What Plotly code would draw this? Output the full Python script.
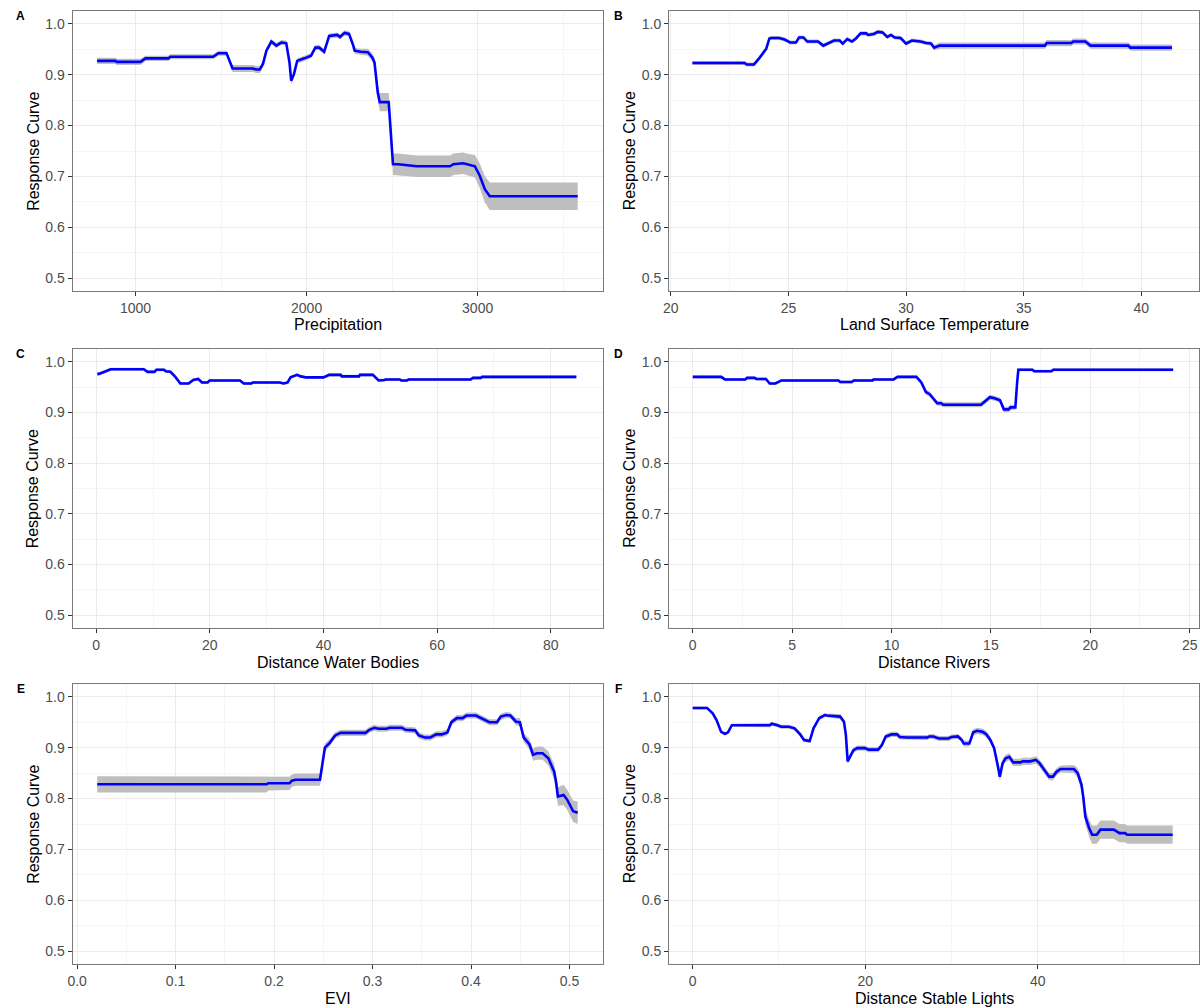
import plotly.graph_objects as go

# ---------------- data ----------------
precip_x = [775, 883, 890, 1029, 1058, 1193, 1203, 1454, 1484, 1532, 1567, 1687, 1705, 1726, 1745, 1765,
            1794, 1823, 1852, 1881, 1900, 1910, 1926, 1945, 1987, 2026, 2051, 2074, 2103, 2132, 2180,
            2195, 2222, 2248, 2273, 2281, 2316, 2358, 2384, 2397, 2416, 2428, 2480, 2494, 2505, 2535,
            2645, 2839, 2858, 2916, 2935, 2984, 3013, 3042, 3071, 3585]
precip_y = [0.927, 0.927, 0.925, 0.925, 0.932, 0.932, 0.935, 0.935, 0.942, 0.942, 0.912, 0.912, 0.910,
            0.910, 0.921, 0.947, 0.965, 0.957, 0.963, 0.962, 0.924, 0.888, 0.901, 0.927, 0.932, 0.937,
            0.953, 0.953, 0.945, 0.976, 0.978, 0.974, 0.982, 0.980, 0.957, 0.947, 0.945, 0.944, 0.934,
            0.924, 0.865, 0.846, 0.846, 0.786, 0.724, 0.724, 0.720, 0.720, 0.724, 0.726, 0.724, 0.720,
            0.701, 0.675, 0.661, 0.661]
precip_se = [0.006, 0.006, 0.006, 0.006, 0.005, 0.005, 0.005, 0.005, 0.005, 0.005, 0.007, 0.007, 0.007,
             0.007, 0.006, 0.005, 0.005, 0.005, 0.005, 0.005, 0.006, 0.007, 0.006, 0.005, 0.005, 0.005,
             0.005, 0.005, 0.005, 0.005, 0.005, 0.005, 0.005, 0.005, 0.006, 0.006, 0.006, 0.007, 0.008,
             0.009, 0.014, 0.018, 0.018, 0.020, 0.021, 0.021, 0.021, 0.021, 0.021, 0.021, 0.021, 0.022,
             0.024, 0.026, 0.027, 0.027]

lst_x = [20.92, 23.14, 23.22, 23.54, 23.79, 24.06, 24.19, 24.27, 24.6, 24.84, 25.08, 25.32, 25.45, 25.64,
         25.8, 26.26, 26.48, 26.69, 26.94, 27.18, 27.31, 27.5, 27.7, 27.87, 28.07, 28.31, 28.39, 28.63,
         28.8, 29.0, 29.2, 29.36, 29.52, 29.77, 30.0, 30.25, 30.62, 30.85, 31.06, 31.19, 31.43, 35.9,
         35.98, 37.03, 37.1, 37.62, 37.84, 39.45, 39.53, 41.3]
lst_y = [0.923, 0.923, 0.920, 0.920, 0.934, 0.951, 0.971, 0.972, 0.972, 0.969, 0.963, 0.963, 0.973, 0.973,
         0.965, 0.965, 0.957, 0.961, 0.967, 0.967, 0.961, 0.970, 0.965, 0.971, 0.981, 0.981, 0.978, 0.980,
         0.984, 0.983, 0.974, 0.978, 0.973, 0.972, 0.961, 0.967, 0.965, 0.962, 0.961, 0.953, 0.957, 0.957,
         0.962, 0.962, 0.965, 0.965, 0.957, 0.957, 0.953, 0.953]
lst_se = [0.004] * 39 + [0.005, 0.006, 0.006, 0.006, 0.006, 0.006, 0.006, 0.006, 0.006, 0.006, 0.006]

water_x = [0.2, 0.5, 1.68, 2.55, 8.37, 9.04, 10.25, 10.58, 11.92, 12.25, 13.06, 13.93, 14.8, 16.27, 17.08,
           17.95, 18.62, 19.62, 19.96, 25.3, 25.98, 27.3, 27.6, 32.3, 33.0, 33.7, 34.2, 35.35, 36.0, 37.0,
           40.0, 41.0, 43.05, 43.2, 46.25, 46.4, 48.7, 49.7, 50.7, 51.0, 53.4, 53.7, 54.7, 54.95, 65.9,
           66.3, 67.7, 67.9, 84.5]
water_y = [0.976, 0.976, 0.981, 0.985, 0.985, 0.980, 0.980, 0.984, 0.984, 0.981, 0.980, 0.970, 0.957, 0.957,
           0.964, 0.966, 0.959, 0.959, 0.963, 0.963, 0.957, 0.957, 0.959, 0.959, 0.957, 0.959, 0.969, 0.974,
           0.971, 0.969, 0.969, 0.974, 0.974, 0.971, 0.971, 0.974, 0.974, 0.963, 0.964, 0.965, 0.965, 0.963,
           0.963, 0.965, 0.965, 0.968, 0.968, 0.970, 0.970]
water_se = [0.003] * 49

rivers_x = [0.0, 1.43, 1.62, 2.64, 2.73, 3.11, 3.2, 3.68, 3.87, 4.16, 4.46, 7.33, 7.42, 8.0, 8.1, 9.05, 9.09,
            10.1, 10.3, 11.25, 11.5, 11.73, 11.92, 12.21, 12.3, 12.5, 12.6, 14.5, 14.7, 14.95, 15.18, 15.46,
            15.65, 15.9, 15.98, 16.23, 16.32, 16.38, 17.09, 17.18, 18.05, 18.14, 24.17]
rivers_y = [0.970, 0.970, 0.965, 0.965, 0.968, 0.968, 0.966, 0.966, 0.957, 0.957, 0.963, 0.963, 0.960,
            0.960, 0.963, 0.963, 0.965, 0.965, 0.970, 0.970, 0.959, 0.940, 0.936, 0.922, 0.918, 0.918,
            0.915, 0.915, 0.921, 0.930, 0.928, 0.924, 0.906, 0.906, 0.910, 0.910, 0.959, 0.984, 0.984,
            0.981, 0.981, 0.984, 0.984]
rivers_se = [0.003] * 20 + [0.005] * 17 + [0.003] * 6

evi_x = [0.0204, 0.1925, 0.194, 0.2157, 0.218, 0.222, 0.2466, 0.2485, 0.2516, 0.2563, 0.262, 0.2676,
         0.2929, 0.2968, 0.3019, 0.306, 0.3143, 0.3174, 0.3297, 0.3336, 0.3432, 0.347, 0.3529, 0.3587,
         0.3645, 0.3703, 0.376, 0.38, 0.3856, 0.3915, 0.3953, 0.405, 0.4128, 0.4186, 0.4264, 0.4302,
         0.436, 0.4399, 0.4457, 0.4496, 0.4534, 0.4592, 0.463, 0.4669, 0.4727, 0.4785, 0.4844, 0.4863,
         0.4882, 0.494, 0.4979, 0.5037, 0.5083]
evi_y = [0.828, 0.828, 0.830, 0.830, 0.835, 0.837, 0.837, 0.859, 0.900, 0.909, 0.924, 0.929, 0.929, 0.935,
         0.939, 0.937, 0.937, 0.939, 0.939, 0.935, 0.934, 0.924, 0.920, 0.920, 0.926, 0.926, 0.930, 0.950,
         0.958, 0.958, 0.963, 0.963, 0.956, 0.950, 0.950, 0.961, 0.964, 0.963, 0.951, 0.950, 0.920, 0.907,
         0.886, 0.889, 0.889, 0.879, 0.853, 0.833, 0.804, 0.807, 0.797, 0.775, 0.772]
evi_se = [0.016, 0.016, 0.014, 0.013, 0.012, 0.012, 0.012, 0.010, 0.008, 0.007, 0.006, 0.006, 0.006,
          0.006, 0.006, 0.006, 0.006, 0.006, 0.006, 0.006, 0.006, 0.006, 0.006, 0.006, 0.006, 0.006,
          0.006, 0.006, 0.006, 0.006, 0.006, 0.006, 0.006, 0.006, 0.006, 0.006, 0.006, 0.006, 0.007,
          0.008, 0.009, 0.010, 0.012, 0.013, 0.013, 0.014, 0.015, 0.016, 0.018, 0.020, 0.020, 0.021, 0.022]

lights_x = [0.0, 1.67, 2.34, 2.77, 3.3, 3.74, 4.1, 4.54, 8.95, 9.17, 9.83, 10.27, 11.15, 11.81, 12.47,
            12.91, 13.57, 14.01, 14.67, 15.33, 15.55, 17.1, 17.54, 17.76, 17.97, 18.19, 18.64, 19.08,
            19.96, 20.4, 21.5, 21.94, 22.38, 23.05, 23.71, 24.0, 24.8, 27.22, 27.45, 27.89, 28.55, 29.66,
            30.01, 30.76, 31.2, 31.42, 32.08, 32.52, 32.97, 33.63, 34.06, 34.51, 34.95, 35.39, 35.61,
            35.92, 36.27, 36.71, 37.15, 38.03, 38.25, 39.13, 39.79, 40.23, 40.89, 41.33, 41.77, 42.21,
            42.66, 44.2, 44.64, 45.08, 45.3, 45.52, 45.96, 46.31, 46.84, 47.28, 48.82, 49.48, 50.14,
            50.36, 55.65]
lights_y = [0.978, 0.978, 0.967, 0.954, 0.931, 0.927, 0.930, 0.944, 0.944, 0.947, 0.944, 0.941, 0.941,
            0.938, 0.926, 0.915, 0.913, 0.938, 0.958, 0.964, 0.963, 0.961, 0.951, 0.925, 0.873, 0.880,
            0.895, 0.899, 0.899, 0.896, 0.896, 0.905, 0.922, 0.926, 0.926, 0.921, 0.920, 0.920, 0.922,
            0.922, 0.918, 0.918, 0.921, 0.922, 0.915, 0.908, 0.908, 0.930, 0.933, 0.931, 0.926, 0.915,
            0.899, 0.863, 0.843, 0.869, 0.879, 0.882, 0.871, 0.871, 0.873, 0.873, 0.876, 0.869, 0.853,
            0.843, 0.843, 0.853, 0.858, 0.858, 0.850, 0.827, 0.801, 0.765, 0.742, 0.729, 0.729, 0.739,
            0.739, 0.732, 0.732, 0.729, 0.729]
lights_se = [0.003] * 8 + [0.004] * 13 + [0.005] * 24 + [0.006] * 8 + [0.007] * 16 + \
            [0.008, 0.010, 0.012, 0.014, 0.016, 0.017, 0.018, 0.018, 0.018, 0.018, 0.018, 0.018, 0.018, 0.018]

panels = [
    ("A", "Precipitation", precip_x, precip_y, precip_se),
    ("B", "Land Surface Temperature", lst_x, lst_y, lst_se),
    ("C", "Distance Water Bodies", water_x, water_y, water_se),
    ("D", "Distance Rivers", rivers_x, rivers_y, rivers_se),
    ("E", "EVI", evi_x, evi_y, evi_se),
    ("F", "Distance Stable Lights", lights_x, lights_y, lights_se),
]

x_ranges = [[632, 3730], [19.93, 42.45], [-4.15, 89.1], [-1.19, 25.47], [-0.0046, 0.5335], [-2.73, 58.7]]
x_dticks = [1000, 5, 20, 5, 0.1, 20]
x_formats = ["", "", "", "", ".1f", ""]
y_range = [0.475, 1.025]

# ---------------- layout geometry (pixels) ----------------
W, H = 1200, 1008
col_px = [(67, 600), (667, 1200)]
row_px = [(11, 291), (349, 628), (684, 964)]

fig = go.Figure()
layout = dict(
    width=W, height=H, margin=dict(l=0, r=0, t=0, b=0),
    paper_bgcolor="white", plot_bgcolor="white", showlegend=False,
    font=dict(family="Liberation Sans, Arial, sans-serif"),
)
annotations = []

for i, (letter, xtitle, xs, ys, se) in enumerate(panels):
    r, c = divmod(i, 2)
    n = i + 1
    xa = "x" if n == 1 else f"x{n}"
    ya = "y" if n == 1 else f"y{n}"
    upper = [y + s for y, s in zip(ys, se)]
    lower = [y - s for y, s in zip(ys, se)]
    fig.add_trace(go.Scatter(
        x=list(xs) + list(xs)[::-1], y=upper + lower[::-1],
        fill="toself", fillcolor="#BEBEBE", line=dict(width=0, color="#BEBEBE"),
        mode="lines", hoverinfo="skip", xaxis=xa, yaxis=ya))
    fig.add_trace(go.Scatter(
        x=xs, y=ys, mode="lines", line=dict(color="#0000FF", width=2.6),
        hoverinfo="skip", xaxis=xa, yaxis=ya))

    x0, x1 = col_px[c]
    y0, y1 = row_px[r]
    common = dict(
        showline=True, mirror=True, linecolor="#7A7A7A", linewidth=1.2,
        showgrid=True, gridcolor="#EBEBEB", gridwidth=1.2,
        zeroline=False, ticks="outside", ticklen=4, tickcolor="#333333", tickwidth=1,
        tickfont=dict(size=14, color="#4D4D4D"),
    )
    xdt = x_dticks[i]
    layout["xaxis" if n == 1 else f"xaxis{n}"] = dict(
        common, domain=[x0 / W, x1 / W], range=x_ranges[i], anchor=ya,
        tick0=0, dtick=xdt, tickformat=x_formats[i],
        minor=dict(showgrid=True, gridcolor="#F5F5F5", gridwidth=0.8, tick0=0, dtick=xdt / 2),
    )
    layout["yaxis" if n == 1 else f"yaxis{n}"] = dict(
        common, domain=[1 - y1 / H, 1 - y0 / H], range=y_range, anchor=xa,
        tick0=0, dtick=0.1, tickformat=".1f",
        minor=dict(showgrid=True, gridcolor="#F5F5F5", gridwidth=0.8, tick0=0, dtick=0.05),
    )
    # panel letter
    annotations.append(dict(
        text=f"<b>{letter}</b>", xref="paper", yref="paper",
        x=(15 if c == 0 else 616) / W, y=1 - (y0 + 5) / H,
        xanchor="center", yanchor="middle", showarrow=False,
        font=dict(size=12, color="black")))
    # y title
    annotations.append(dict(
        text="Response Curve", xref="paper", yref="paper",
        x=(x0 - 40) / W, y=1 - ((y0 + y1) / 2) / H, textangle=-90,
        xanchor="center", yanchor="middle", showarrow=False,
        font=dict(size=16, color="black")))
    # x title
    annotations.append(dict(
        text=xtitle, xref="paper", yref="paper",
        x=((x0 + x1) / 2) / W, y=1 - (y1 + 34) / H,
        xanchor="center", yanchor="middle", showarrow=False,
        font=dict(size=16, color="black")))

layout["annotations"] = annotations
fig.update_layout(**layout)
fig.write_html("out.html")
